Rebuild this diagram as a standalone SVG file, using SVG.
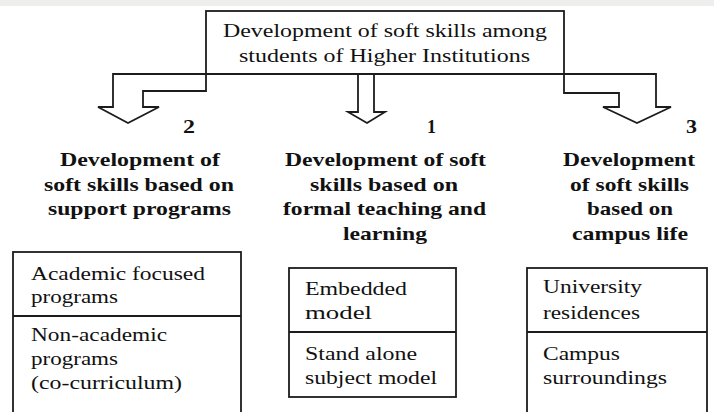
<svg xmlns="http://www.w3.org/2000/svg" width="714" height="412" viewBox="0 0 714 412">
<style>
.ln{fill:none;stroke:#1c1c1c;stroke-width:1.8;stroke-linejoin:miter}
.t{font-family:"Liberation Serif","Times New Roman",serif;font-size:18px;fill:#111}
.b{font-family:"Liberation Serif","Times New Roman",serif;font-size:19px;font-weight:bold;fill:#111}
</style>
<rect x="0" y="0" width="714" height="412" fill="#ffffff"/>
<rect x="0" y="0" width="714" height="6" fill="#eeeeec"/>
<g id="title">
<rect class="ln" x="206" y="11" width="358" height="63"/>
<text class="t" x="223" y="37" textLength="324" lengthAdjust="spacingAndGlyphs">Development of soft skills among</text>
<text class="t" x="239" y="62" textLength="291" lengthAdjust="spacingAndGlyphs">students of Higher Institutions</text>
</g>
<g id="connectors">
<path class="ln" d="M206,74 L206,91 L143,91 L143,107 L159,107 L128,123 L98,107 L113,107 L113,74 L656,74 L656,107 L671,107 L637,123 L603,107 L619,107 L619,93 L564,93 L564,74"/>
<path class="ln" d="M358,74 L358,112 L348,112 L367,123 L385,112 L374,112 L374,74"/>
</g>
<g id="heading2">
<text class="b" x="183" y="133" textLength="12" lengthAdjust="spacingAndGlyphs">2</text>
<text class="b" x="60" y="166" textLength="160" lengthAdjust="spacingAndGlyphs">Development of</text>
<text class="b" x="44" y="191" textLength="190" lengthAdjust="spacingAndGlyphs">soft skills based on</text>
<text class="b" x="48" y="215" textLength="183" lengthAdjust="spacingAndGlyphs">support programs</text>
</g>
<g id="heading1">
<text class="b" x="427" y="133" textLength="9" lengthAdjust="spacingAndGlyphs">1</text>
<text class="b" x="285" y="166" textLength="201" lengthAdjust="spacingAndGlyphs">Development of soft</text>
<text class="b" x="310" y="191" textLength="148" lengthAdjust="spacingAndGlyphs">skills based on</text>
<text class="b" x="283" y="215" textLength="203" lengthAdjust="spacingAndGlyphs">formal teaching and</text>
<text class="b" x="343" y="240" textLength="84" lengthAdjust="spacingAndGlyphs">learning</text>
</g>
<g id="heading3">
<text class="b" x="686" y="133" textLength="11" lengthAdjust="spacingAndGlyphs">3</text>
<text class="b" x="563" y="166" textLength="132" lengthAdjust="spacingAndGlyphs">Development</text>
<text class="b" x="570" y="191" textLength="119" lengthAdjust="spacingAndGlyphs">of soft skills</text>
<text class="b" x="587" y="215" textLength="86" lengthAdjust="spacingAndGlyphs">based on</text>
<text class="b" x="572" y="240" textLength="116" lengthAdjust="spacingAndGlyphs">campus life</text>
</g>
<g id="box-support">
<rect class="ln" x="13" y="252" width="228" height="180"/>
<line class="ln" x1="13" y1="316" x2="241" y2="316"/>
<text class="t" x="31" y="280" textLength="174" lengthAdjust="spacingAndGlyphs">Academic focused</text>
<text class="t" x="31" y="303" textLength="87" lengthAdjust="spacingAndGlyphs">programs</text>
<text class="t" x="31" y="341" textLength="136" lengthAdjust="spacingAndGlyphs">Non-academic</text>
<text class="t" x="31" y="365" textLength="87" lengthAdjust="spacingAndGlyphs">programs</text>
<text class="t" x="31" y="389" textLength="151" lengthAdjust="spacingAndGlyphs">(co-curriculum)</text>
</g>
<g id="box-formal">
<rect class="ln" x="289" y="268" width="167" height="129"/>
<line class="ln" x1="289" y1="332" x2="456" y2="332"/>
<text class="t" x="305" y="295" textLength="102" lengthAdjust="spacingAndGlyphs">Embedded</text>
<text class="t" x="305" y="319" textLength="67" lengthAdjust="spacingAndGlyphs">model</text>
<text class="t" x="305" y="360" textLength="112" lengthAdjust="spacingAndGlyphs">Stand alone</text>
<text class="t" x="305" y="384" textLength="132" lengthAdjust="spacingAndGlyphs">subject model</text>
</g>
<g id="box-campus">
<rect class="ln" x="527" y="268" width="180" height="160"/>
<line class="ln" x1="527" y1="332" x2="707" y2="332"/>
<text class="t" x="543" y="293" textLength="99" lengthAdjust="spacingAndGlyphs">University</text>
<text class="t" x="543" y="319" textLength="97" lengthAdjust="spacingAndGlyphs">residences</text>
<text class="t" x="543" y="360" textLength="77" lengthAdjust="spacingAndGlyphs">Campus</text>
<text class="t" x="543" y="384" textLength="124" lengthAdjust="spacingAndGlyphs">surroundings</text>
</g>
</svg>
